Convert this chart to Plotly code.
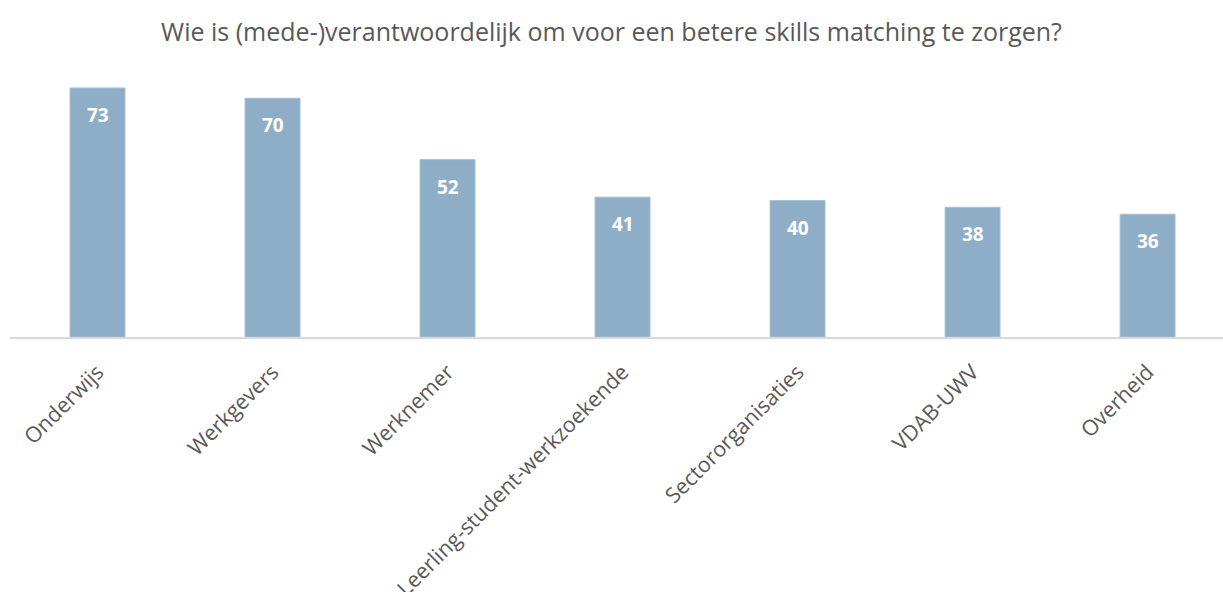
import plotly.graph_objects as go

categories = ["Onderwijs", "Werkgevers", "Werknemer", "Leerling-student-werkzoekende",
              "Sectororganisaties", "VDAB-UWV", "Overheid"]
values = [73, 70, 52, 41, 40, 38, 36]
title_text = "Wie is (mede-)verantwoordelijk om voor een betere skills matching te zorgen?"

FONT = "Open Sans, Noto Sans, sans-serif"

fig = go.Figure(go.Bar(
    x=categories, y=values, width=0.314,
    marker=dict(color="#8eaec8", line=dict(color="#a7bfd4", width=1)),
    cliponaxis=False,
))

for c, v in zip(categories, values):
    fig.add_annotation(x=c, y=v, text=f"<b>{v}</b>", showarrow=False,
                       yanchor="middle", xanchor="center", yshift=-27,
                       font=dict(family=FONT, size=19, color="white"))

fig.update_layout(
    width=1223, height=592,
    margin=dict(l=10, r=0, t=60, b=255, autoexpand=False),
    paper_bgcolor="white", plot_bgcolor="white",
    title=dict(text=title_text, x=0.5, xanchor="center", y=0.945, yanchor="middle",
               font=dict(family=FONT, size=25, color="#595959")),
    showlegend=False,
    bargap=0.5,
)
fig.update_xaxes(range=[-0.5, 6.431], showline=True, linecolor="#d9d9d9", linewidth=2,
                 tickangle=-45, ticks="", showgrid=False, ticklabelstandoff=12,
                 automargin=False,
                 tickfont=dict(family=FONT, size=21.5, color="#595959"))
fig.update_yaxes(range=[0, 81.2], visible=False, showgrid=False, automargin=False)

fig.write_html("out.html")
